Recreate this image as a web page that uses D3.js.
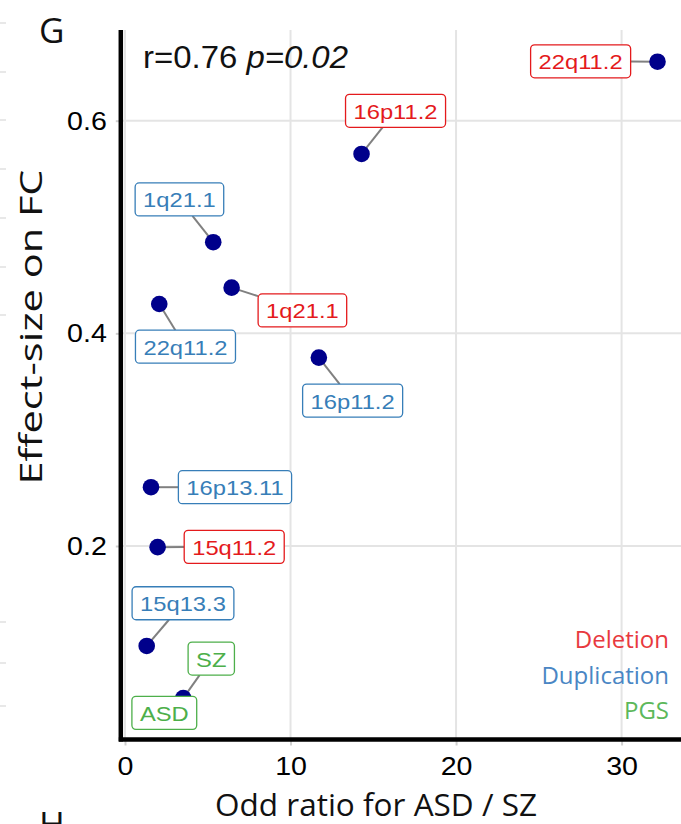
<!DOCTYPE html>
<html><head><meta charset="utf-8">
<script src="https://cdn.jsdelivr.net/npm/d3@7"></script>
<style>body{margin:0;background:#fff}svg{display:block}</style>
</head><body>
<svg id="c" width="681" height="824"></svg>
<script>
// ---- data ----
const labels = ["22q11.2","16p11.2","1q21.1","1q21.1","22q11.2","16p11.2","16p13.11","15q11.2","15q13.3","SZ","ASD"];
const types  = ["Deletion","Deletion","Duplication","Deletion","Duplication","Duplication","Duplication","Deletion","Duplication","PGS","PGS"];
const oddRatio = [32.17, 14.29, 5.33, 6.44, 2.07, 11.71, 1.57, 1.97, 1.31, 3.52, 2.9];
const effectSize = [0.6555, 0.5687, 0.4857, 0.443, 0.4276, 0.3772, 0.2553, 0.1989, 0.106, 0.0569, 0.046];
const xTicks = [0, 10, 20, 30];
const yTicks = [0.2, 0.4, 0.6];
const legendItems = ["Deletion","Duplication","PGS"];
const statText = ["r=0.76 ", "p=0.02"];

// ---- layout (label repel offsets in px, as placed in the reference) ----
const labelOffsets = [[-76.9,-0.4],[34,-43.2],[-33.8,-42.8],[70.8,22.8],[26.2,42.7],[33.8,43],[84,0],[76.6,-0.3],[36.3,-42.7],[28,-39.6],[-8.7,3.1]];
const labelColor = {Deletion:"#e41a1c", Duplication:"#377eb8", PGS:"#4daf4a"};
const legendColor = {Deletion:"#e8393e", Duplication:"#4a86c4", PGS:"#5cb85a"};
const SX = 1.13;

const svg = d3.select("#c");
const x = d3.scaleLinear().domain([0,30]).range([125,621.6]);
const y = d3.scaleLinear().domain([0.2,0.6]).range([546,120.7]);
const xLim = [-0.24, 34.5], yLim = [0.0177, 0.6853];

function stretch(sel, f){
  sel.each(function(){
    const L = this.getComputedTextLength();
    this.setAttribute("textLength", L*f);
    this.setAttribute("lengthAdjust","spacingAndGlyphs");
  });
}
function fixLen(sel, len){
  sel.attr("textLength", len).attr("lengthAdjust","spacingAndGlyphs");
}

// grid
svg.append("g").selectAll("line").data(xTicks).join("line")
  .attr("x1",d=>x(d)).attr("x2",d=>x(d))
  .attr("y1",y(yLim[1])).attr("y2",y(yLim[0]))
  .attr("stroke","#e4e4e4").attr("stroke-width",2);
svg.append("g").selectAll("line").data(yTicks).join("line")
  .attr("y1",d=>y(d)).attr("y2",d=>y(d))
  .attr("x1",x(xLim[0])).attr("x2",x(xLim[1]))
  .attr("stroke","#e4e4e4").attr("stroke-width",2);

// axes
const axisX = 120.8, axisY = 739.5;
const yAxis = svg.append("g").attr("transform",`translate(${axisX},0)`)
  .call(d3.axisLeft(y).tickValues(yTicks).tickFormat(d3.format(".1f")).tickSize(5).tickPadding(9));
const xAxis = svg.append("g").attr("transform",`translate(0,${axisY})`)
  .call(d3.axisBottom(x).tickValues(xTicks).tickFormat(d3.format("d")).tickSize(6).tickPadding(11));
[yAxis,xAxis].forEach(a=>{
  a.select(".domain").remove();
  a.selectAll(".tick line").attr("stroke","#d0d0d0").attr("stroke-width",2);
  a.selectAll(".tick text").attr("fill","#000").style("font-family","'Liberation Sans',Arial,sans-serif").style("font-size","26px");
  stretch(a.selectAll(".tick text"), 1.1);
});
svg.append("line").attr("x1",axisX).attr("x2",axisX).attr("y1",y(yLim[1])).attr("y2",axisY+2)
  .attr("stroke","#000").attr("stroke-width",4.5);
svg.append("line").attr("x1",axisX-2).attr("x2",x(xLim[1])).attr("y1",axisY).attr("y2",axisY)
  .attr("stroke","#000").attr("stroke-width",4.5);

// neighbour-panel remnants on the left edge
svg.append("g").selectAll("line").data([23,72,120,169,218,267,315,622,663,706]).join("line")
  .attr("x1",0).attr("x2",6).attr("y1",d=>d).attr("y2",d=>d).attr("stroke","#e0e0e0").attr("stroke-width",1.5);

// axis titles
fixLen(svg.append("text").attr("x",376).attr("y",816).attr("text-anchor","middle")
  .style("font-family","'Open Sans',sans-serif").style("font-size","31px").attr("fill","#111")
  .text("Odd ratio for ASD / SZ"), 322);
fixLen(svg.append("text").attr("transform","translate(42,327) rotate(-90)").attr("text-anchor","middle")
  .style("font-family","'Open Sans',sans-serif").style("font-size","31px").attr("fill","#111")
  .text("Effect-size on FC"), 315);

// panel letters
svg.append("text").attr("x",39).attr("y",43).style("font-family","'Open Sans',sans-serif").style("font-size","35px").attr("fill","#111").text("G");
svg.append("text").attr("x",39).attr("y",837).style("font-family","'Open Sans',sans-serif").style("font-size","35px").attr("fill","#111").text("H");

// stats
const st = svg.append("text").attr("x",143).attr("y",68)
  .style("font-family","'Liberation Sans',Arial,sans-serif").style("font-size","31px").attr("fill","#111");
st.append("tspan").text(statText[0]);
st.append("tspan").style("font-style","italic").text(statText[1]);
fixLen(st, 205);

// data
const data = labels.map((l,i)=>({label:l, type:types[i], x:oddRatio[i], y:effectSize[i], off:labelOffsets[i]}));

// label geometry
const fs = 21, pad = 8, bh = 33;
const tmp = svg.append("text").style("font-family","'Liberation Sans',Arial,sans-serif").style("font-size",fs+"px");
data.forEach(d=>{
  tmp.text(d.label);
  d.tw = tmp.node().getComputedTextLength();
  d.bw = d.tw*SX + 2*pad;
  d.px = x(d.x); d.py = y(d.y);
  d.cx = d.px + d.off[0]; d.cy = d.py + d.off[1];
  const hw = d.bw/2, hh = bh/2;
  const dx = d.px - d.cx, dy = d.py - d.cy;
  const s = Math.min(dx ? hw/Math.abs(dx) : Infinity, dy ? hh/Math.abs(dy) : Infinity);
  d.seg = s < 1;
  d.ex = d.cx + dx*s; d.ey = d.cy + dy*s;
});
tmp.remove();

// segments
svg.append("g").selectAll("line").data(data.filter(d=>d.seg)).join("line")
  .attr("x1",d=>d.px).attr("y1",d=>d.py).attr("x2",d=>d.ex).attr("y2",d=>d.ey)
  .attr("stroke","#808080").attr("stroke-width",2);

// points
svg.append("g").selectAll("circle").data(data).join("circle")
  .attr("cx",d=>d.px).attr("cy",d=>d.py).attr("r",8.3).attr("fill","#00008b");

// labels
const lg = svg.append("g").selectAll("g").data(data).join("g");
lg.append("rect")
  .attr("x",d=>d.cx-d.bw/2).attr("y",d=>d.cy-bh/2).attr("width",d=>d.bw).attr("height",bh)
  .attr("rx",4).attr("fill","#fff").attr("stroke",d=>labelColor[d.type]).attr("stroke-width",1.3);
const lt = lg.append("text").attr("x",d=>d.cx).attr("y",d=>d.cy+8).attr("text-anchor","middle")
  .style("font-family","'Liberation Sans',Arial,sans-serif").style("font-size",fs+"px")
  .attr("fill",d=>labelColor[d.type]).text(d=>d.label);
stretch(lt, SX);

// legend
svg.append("g").selectAll("text").data(legendItems).join("text")
  .attr("x",669).attr("y",(d,i)=>648+i*35.5).attr("text-anchor","end")
  .style("font-family","'Open Sans',sans-serif").style("font-size","24px")
  .attr("fill",d=>legendColor[d]).text(d=>d);
</script>
</body></html>
